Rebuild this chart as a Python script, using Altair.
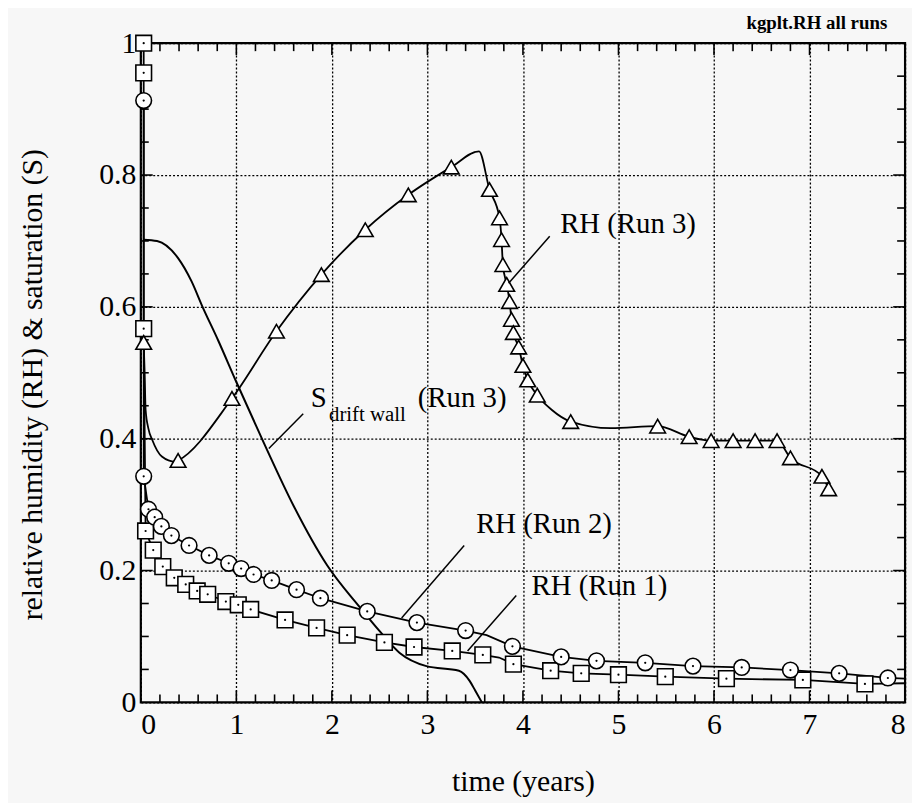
import altair as alt
import pandas as pd

# ---------------- data ----------------
# RH (Run 1) - squares
run1_x = [0.03, 0.03, 0.03, 0.05, 0.13, 0.23, 0.35, 0.47, 0.59, 0.70, 0.89, 1.02, 1.15,
          1.51, 1.84, 2.16, 2.55, 2.86, 3.26, 3.58, 3.90, 4.29, 4.61, 5.00, 5.49, 6.13,
          6.93, 7.58]
run1_y = [1.000, 0.955, 0.567, 0.260, 0.231, 0.206, 0.189, 0.179, 0.169, 0.164, 0.153,
          0.148, 0.141, 0.125, 0.113, 0.102, 0.091, 0.084, 0.078, 0.072, 0.058, 0.048,
          0.044, 0.042, 0.039, 0.036, 0.034, 0.028]
run1_line_x = [3.75, 8.00]
run1_line_y = [0.068, 0.029]

# RH (Run 2) - circles
run2_x = [0.03, 0.03, 0.08, 0.145, 0.215, 0.32, 0.505, 0.715, 0.92, 1.05, 1.18, 1.37,
          1.63, 1.88, 2.37, 2.89, 3.40, 3.89, 4.40, 4.77, 5.28, 5.78, 6.29, 6.80, 7.31,
          7.82]
run2_y = [0.913, 0.343, 0.293, 0.281, 0.267, 0.253, 0.238, 0.223, 0.211, 0.203, 0.194,
          0.185, 0.171, 0.158, 0.138, 0.121, 0.109, 0.085, 0.069, 0.063, 0.060, 0.055,
          0.053, 0.049, 0.044, 0.037]
run2_line_x = [3.62, 8.00]
run2_line_y = [0.102, 0.036]

# RH (Run 3) - triangles
run3_x = [0.03, 0.39, 0.954, 1.42, 1.89, 2.35, 2.80, 3.25, 3.65, 3.755, 3.776, 3.79,
          3.83, 3.86, 3.88, 3.90, 3.955, 4.00, 4.05, 4.15, 4.50, 5.41, 5.74, 5.97, 6.20,
          6.43, 6.66, 6.80, 7.13, 7.20]
run3_y = [0.546, 0.367, 0.461, 0.563, 0.649, 0.717, 0.770, 0.812, 0.778, 0.735, 0.702,
          0.664, 0.634, 0.608, 0.581, 0.561, 0.539, 0.511, 0.489, 0.466, 0.426, 0.419,
          0.403, 0.397, 0.397, 0.397, 0.397, 0.371, 0.343, 0.324]
run3_line_x = [0.04, 0.05, 0.08, 0.12, 0.22, 0.36, 3.54, 4.30, 4.92]
run3_line_y = [0.500, 0.444, 0.415, 0.398, 0.373, 0.365, 0.836, 0.444, 0.416]

# S drift wall (Run 3) - line only
s_x = [0.03, 0.17, 0.39, 0.53, 0.64, 0.81, 1.00, 1.29, 1.60, 1.95, 2.30, 2.50, 2.71,
       2.99, 3.33, 3.44, 3.50, 3.57]
s_y = [0.702, 0.700, 0.674, 0.639, 0.602, 0.549, 0.486, 0.393, 0.298, 0.208, 0.143,
       0.108, 0.075, 0.055, 0.048, 0.033, 0.018, 0.000]

# axis ticks
x_major = [0, 1, 2, 3, 4, 5, 6, 7, 8]
y_major = [0, 0.2, 0.4, 0.6, 0.8, 1.0]

# labels
label_text = ["RH (Run 3)", "S", "(Run 3)", "RH (Run 2)", "RH (Run 1)"]
label_x = [4.39, 1.78, 2.90, 3.51, 4.09]
label_y = [0.725, 0.462, 0.462, 0.271, 0.176]
sub_text = ["drift wall"]
sub_x = [1.97]
sub_y = [0.436]
leader_x = [4.28, 1.70, 3.385, 3.93]
leader_y = [0.707, 0.438, 0.238, 0.162]
leader_x2 = [3.85, 1.34, 2.73, 3.42]
leader_y2 = [0.636, 0.385, 0.128, 0.078]

# ---------------- layout ----------------
W, H = 771, 665
FONT = "Liberation Serif"


def series_df(mx, my, ex, ey):
    m = pd.DataFrame({"x": mx, "y": my, "marker": True})
    e = pd.DataFrame({"x": ex, "y": ey, "marker": False})
    d = pd.concat([m, e], ignore_index=True).sort_values("x", kind="stable").reset_index(drop=True)
    d["order"] = range(len(d))
    return d


d1 = series_df(run1_x, run1_y, run1_line_x, run1_line_y)
d2 = series_df(run2_x, run2_y, run2_line_x, run2_line_y)
d3 = series_df(run3_x, run3_y, run3_line_x, run3_line_y)
ds = pd.DataFrame({"x": s_x, "y": s_y})
ds["order"] = range(len(ds))

xs = alt.Scale(domain=[0, 8], nice=False, zero=False)
ys = alt.Scale(domain=[0, 1], nice=False, zero=False)

x_axis = alt.Axis(values=x_major, format="d", grid=True, domain=False, ticks=False,
                  labelPadding=7, title="time (years)",
                  titleX=W / 2, titleY=80, titleBaseline="middle", titleAlign="center")
y_axis = alt.Axis(values=y_major, grid=True, domain=False, ticks=False,
                  labelExpr="datum.value == 0 ? '0' : (datum.value == 1 ? '1' : format(datum.value, '.1f'))",
                  labelPadding=5, title="relative humidity (RH) & saturation (S)",
                  titleX=-109, titleY=344, titleBaseline="middle", titleAlign="center",
                  titleAngle=270)


def X():
    return alt.X("x:Q", scale=xs, axis=x_axis)


def Y():
    return alt.Y("y:Q", scale=ys, axis=y_axis)


# inward ticks
xt = pd.DataFrame({"x": [i / 5 for i in range(1, 40)]})
xt["major"] = xt["x"].apply(lambda v: abs(v - round(v)) < 1e-9)
yt = pd.DataFrame({"y": [i / 20 for i in range(1, 20)]})
yt["major"] = yt["y"].apply(lambda v: abs(v * 5 - round(v * 5)) < 1e-9)

tick_layers = []
for maj, ln in [(True, 12), (False, 8)]:
    xd = xt[xt["major"] == maj]
    yd = yt[yt["major"] == maj]
    tick_layers += [
        alt.Chart(xd).mark_rule(color="black", strokeWidth=1.6).encode(
            x=X(), y=alt.value(H), y2=alt.value(H - ln)),
        alt.Chart(xd).mark_rule(color="black", strokeWidth=1.6).encode(
            x=X(), y=alt.value(0), y2=alt.value(ln)),
        alt.Chart(yd).mark_rule(color="black", strokeWidth=1.6).encode(
            y=Y(), x=alt.value(0), x2=alt.value(ln)),
        alt.Chart(yd).mark_rule(color="black", strokeWidth=1.6).encode(
            y=Y(), x=alt.value(W), x2=alt.value(W - ln)),
    ]

line_s = alt.Chart(ds).mark_line(color="black", strokeWidth=2, interpolate="monotone").encode(
    x=X(), y=Y(), order="order:Q")
line1 = alt.Chart(d1).mark_line(color="black", strokeWidth=1.8).encode(
    x=X(), y=Y(), order="order:Q")
line2 = alt.Chart(d2).mark_line(color="black", strokeWidth=1.8).encode(
    x=X(), y=Y(), order="order:Q")
line3 = alt.Chart(d3).mark_line(color="black", strokeWidth=1.8, interpolate="monotone").encode(
    x=X(), y=Y(), order="order:Q")


def markers(d, shape, size, dot):
    m = d[d["marker"]]
    layers = [alt.Chart(m).mark_point(shape=shape, size=size, filled=True, fill="white",
                                      fillOpacity=1, stroke="black", strokeWidth=1.6,
                                      opacity=1).encode(x=X(), y=Y())]
    if dot:
        layers.append(alt.Chart(m).mark_point(shape="circle", size=5, filled=True,
                                              color="black", opacity=1).encode(x=X(), y=Y()))
    return layers


mk = markers(d1, "square", 250, True) + markers(d2, "circle", 250, True) + \
    markers(d3, "triangle-up", 250, False)

labels = pd.DataFrame({"x": label_x, "y": label_y, "t": label_text})
subs = pd.DataFrame({"x": sub_x, "y": sub_y, "t": sub_text})
leaders = pd.DataFrame({"x": leader_x, "y": leader_y, "x2": leader_x2, "y2": leader_y2})

txt = alt.Chart(labels).mark_text(font=FONT, fontSize=29, align="left", baseline="middle",
                                  color="black").encode(x=X(), y=Y(), text="t:N")
sub = alt.Chart(subs).mark_text(font=FONT, fontSize=21, align="left", baseline="middle",
                                color="black").encode(x=X(), y=Y(), text="t:N")
lead = alt.Chart(leaders).mark_rule(color="black", strokeWidth=1.5).encode(
    x=X(), y=Y(), x2="x2:Q", y2="y2:Q")
corner = alt.Chart(pd.DataFrame({"t": ["kgplt.RH all runs"]})).mark_text(
    font=FONT, fontSize=19, fontWeight="bold", align="center", baseline="middle",
    color="black").encode(x=alt.value(682), y=alt.value(-20), text="t:N")

chart = alt.layer(line_s, *tick_layers, line1, line2, line3, *mk, lead, txt, sub,
                  corner).properties(
    width=W, height=H,
    autosize=alt.AutoSizeParams(type="none"),
    padding={"left": 134, "top": 32, "right": 7, "bottom": 98},
    background="#f7f7f7",
).configure_view(stroke="black", strokeWidth=2.2).configure_axis(
    labelFont=FONT, labelFontSize=30, labelColor="black",
    titleFont=FONT, titleFontSize=30, titleFontWeight="normal", titleColor="black",
    gridDash=[2, 2], gridColor="black", gridWidth=1.3, gridOpacity=1,
)

chart.save("out.html", embed_options={"renderer": "svg", "actions": False})
